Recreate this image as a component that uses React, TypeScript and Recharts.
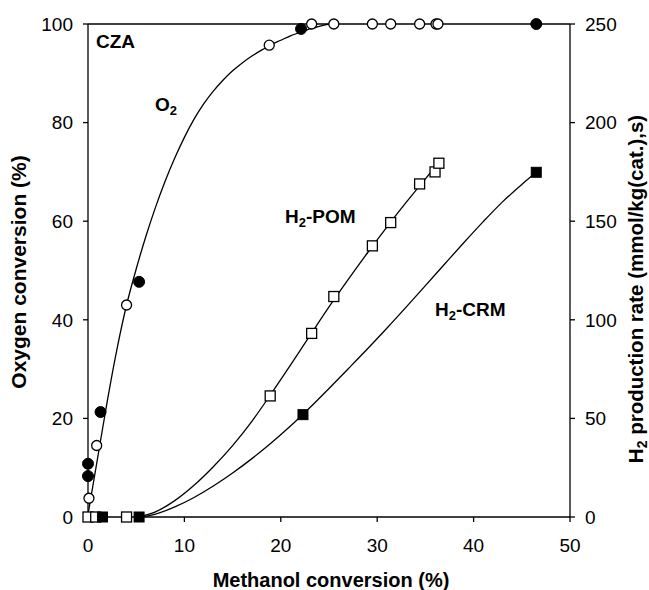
import React from 'react';
import { ComposedChart, Line, Scatter, XAxis, YAxis, ReferenceLine } from 'recharts';

// Axis ticks
const xTicks = [0, 10, 20, 30, 40, 50];
const o2Ticks = [0, 20, 40, 60, 80, 100];
const h2Ticks = [0, 50, 100, 150, 200, 250];

// O2 conversion (left axis) - open circles
const o2OpenX = [0.1, 0.9, 4.0, 18.8, 23.2, 25.5, 29.5, 31.4, 34.4, 36.1, 36.3];
const o2OpenY = [3.8, 14.5, 43.0, 95.7, 100, 100, 100, 100, 100, 100, 100];
// O2 conversion - filled circles
const o2FilledX = [0.0, 0.0, 1.3, 5.3, 22.1, 46.5];
const o2FilledY = [8.3, 10.8, 21.3, 47.7, 99.0, 100];
// O2 fitted curve
const o2CurveX = [0, 1, 2, 3, 4, 5, 6, 7, 8, 9, 10, 11, 12, 13, 14, 15, 16, 17, 18, 19, 20, 21, 22, 23, 24, 25];
const o2CurveY = [0.5, 12, 23.5, 34, 43, 50.3, 56.9, 62.8, 68.1, 72.8, 77, 80.7, 83.8, 86.4, 88.6, 90.5, 92.1, 93.5, 94.7, 95.8, 96.7, 97.6, 98.3, 99, 99.5, 100];

// H2 production POM (right axis) - open squares
const pomX = [0.0, 0.8, 4.0, 18.9, 23.2, 25.5, 29.5, 31.4, 34.4, 36.0, 36.4];
const pomY = [0, 0, 0, 61.4, 93.1, 111.8, 137.5, 149.3, 168.9, 175.0, 179.4];
const pomCurveX = [5.2, 7, 9, 11, 13, 15, 17, 19, 21, 23, 25, 27, 29, 31, 33, 35, 36.4];
const pomCurveY = [0, 2.6, 8.3, 16.1, 25.5, 36.2, 48.5, 62.5, 77, 91.8, 106.5, 120.5, 134, 147, 159.5, 171.5, 179.5];

// H2 production CRM (right axis) - filled squares
const crmX = [1.5, 5.3, 22.3, 46.5];
const crmY = [0, 0, 51.9, 174.8];
const crmCurveX = [5.4, 7, 9, 11, 13, 15, 17, 19, 21, 23, 25, 27, 29, 31, 33, 35, 37, 39, 41, 43, 45, 46.5];
const crmCurveY = [0, 1.5, 5.1, 9.9, 15.7, 22.3, 29.6, 37.5, 46.1, 55.4, 65.2, 75.2, 85.3, 95.7, 106.4, 117.3, 128.3, 139.2, 149.8, 159.8, 168.6, 174.8];

const zip = (xs: number[], ys: number[]) => xs.map((x, i) => ({ x, y: ys[i] }));

const o2Open = zip(o2OpenX, o2OpenY);
const o2Filled = zip(o2FilledX, o2FilledY);
const o2Curve = zip(o2CurveX, o2CurveY);
const pomPts = zip(pomX, pomY);
const pomCurve = zip(pomCurveX, pomCurveY);
const crmPts = zip(crmX, crmY);
const crmCurve = zip(crmCurveX, crmCurveY);

const FONT = '"Liberation Sans", Arial, sans-serif';

const OpenCircle = (p: any) => (
  <circle cx={p.cx} cy={p.cy} r={5} fill="#fff" stroke="#000" strokeWidth={1.3} />
);
const FilledCircle = (p: any) => (
  <circle cx={p.cx} cy={p.cy} r={5.5} fill="#000" stroke="#000" strokeWidth={1} />
);
const OpenSquare = (p: any) => (
  <rect x={p.cx - 5} y={p.cy - 5} width={10} height={10} fill="#fff" stroke="#000" strokeWidth={1.3} />
);
const FilledSquare = (p: any) => (
  <rect x={p.cx - 5} y={p.cy - 5} width={10} height={10} fill="#000" stroke="#000" strokeWidth={1} />
);

const tickStyle = { fill: '#000', fontSize: 19, fontFamily: FONT };
const lineProps = { stroke: '#000', strokeWidth: 1.3 };

export default function App() {
  return (
    <div style={{ position: 'absolute', left: 0, top: 0, width: 649, height: 590, background: '#fff' }}>
      <ComposedChart width={649} height={590} margin={{ top: 24, right: 0, bottom: 0, left: 0 }}>
        <XAxis
          dataKey="x"
          type="number"
          domain={[0, 50]}
          ticks={xTicks}
          height={73}
          tickSize={5}
          tickMargin={17}
          stroke="#000"
          tick={tickStyle}
          axisLine={lineProps}
          tickLine={lineProps}
        />
        <YAxis
          yAxisId="left"
          orientation="left"
          type="number"
          domain={[0, 100]}
          ticks={o2Ticks}
          width={88}
          tickSize={5}
          tickMargin={10}
          stroke="#000"
          tick={tickStyle}
          axisLine={lineProps}
          tickLine={lineProps}
        />
        <YAxis
          yAxisId="right"
          orientation="right"
          type="number"
          domain={[0, 250]}
          ticks={h2Ticks}
          width={79}
          tickSize={5}
          tickMargin={10}
          stroke="#000"
          tick={tickStyle}
          axisLine={lineProps}
          tickLine={lineProps}
        />
        <ReferenceLine yAxisId="left" y={100} stroke="#000" strokeWidth={1.3} />
        <Line data={o2Curve} dataKey="y" yAxisId="left" type="monotone" dot={false} stroke="#000" strokeWidth={1.3} isAnimationActive={false} />
        <Line data={pomCurve} dataKey="y" yAxisId="right" type="monotone" dot={false} stroke="#000" strokeWidth={1.3} isAnimationActive={false} />
        <Line data={crmCurve} dataKey="y" yAxisId="right" type="monotone" dot={false} stroke="#000" strokeWidth={1.3} isAnimationActive={false} />
        <Scatter data={o2Open} dataKey="y" yAxisId="left" shape={OpenCircle} isAnimationActive={false} />
        <Scatter data={o2Filled} dataKey="y" yAxisId="left" shape={FilledCircle} isAnimationActive={false} />
        <Scatter data={pomPts} dataKey="y" yAxisId="right" shape={OpenSquare} isAnimationActive={false} />
        <Scatter data={crmPts} dataKey="y" yAxisId="right" shape={FilledSquare} isAnimationActive={false} />
      </ComposedChart>
      <svg
        width={649}
        height={590}
        style={{ position: 'absolute', left: 0, top: 0, pointerEvents: 'none' }}
        fontFamily={FONT}
        fontWeight="bold"
        fill="#000"
      >
        <text x={331} y={587} textAnchor="middle" fontSize={20}>Methanol conversion (%)</text>
        <text transform="translate(26,272) rotate(-90)" textAnchor="middle" fontSize={21}>Oxygen conversion (%)</text>
        <text transform="translate(643,289) rotate(-90)" textAnchor="middle" fontSize={20.5}>
          H<tspan fontSize={14} dy={4}>2</tspan>
          <tspan dy={-4}> production rate (mmol/kg(cat.),s)</tspan>
        </text>
        <text x={96} y={48} fontSize={19}>CZA</text>
        <text x={155} y={110.5} fontSize={19}>
          O<tspan fontSize={13} dy={4}>2</tspan>
        </text>
        <text x={285} y={222.5} fontSize={19}>
          H<tspan fontSize={13} dy={4}>2</tspan>
          <tspan dy={-4}>-POM</tspan>
        </text>
        <text x={435} y={316} fontSize={19}>
          H<tspan fontSize={13} dy={4}>2</tspan>
          <tspan dy={-4}>-CRM</tspan>
        </text>
      </svg>
    </div>
  );
}
